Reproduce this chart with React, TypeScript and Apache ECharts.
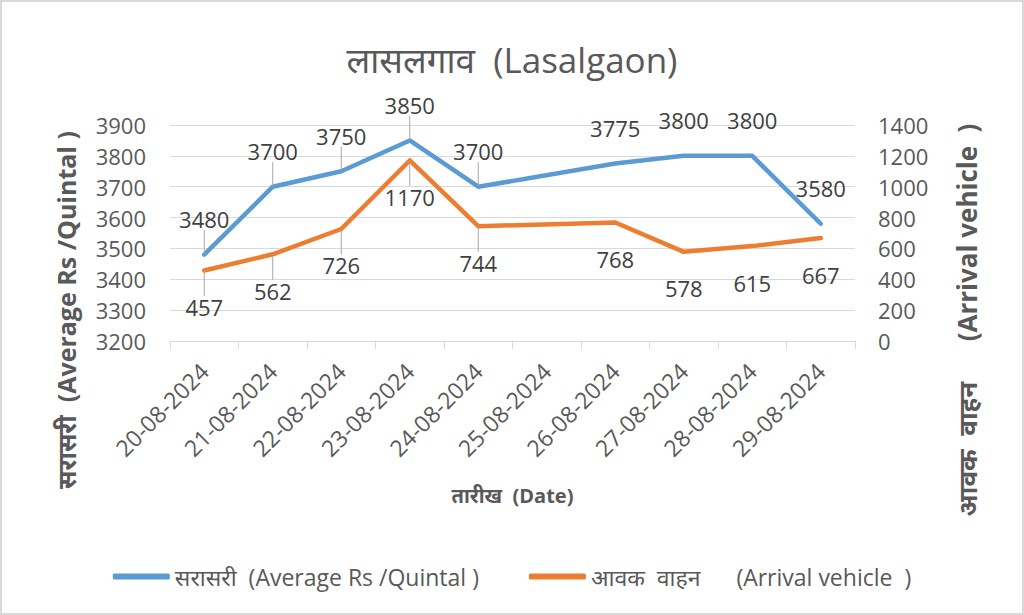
import React, { useEffect, useRef } from "react";
import * as echarts from "echarts";

const categories = [
  "20-08-2024", "21-08-2024", "22-08-2024", "23-08-2024", "24-08-2024",
  "25-08-2024", "26-08-2024", "27-08-2024", "28-08-2024", "29-08-2024",
];
const averagePrice: (number | null)[] = [3480, 3700, 3750, 3850, 3700, null, 3775, 3800, 3800, 3580];
const arrivalVehicles: (number | null)[] = [457, 562, 726, 1170, 744, null, 768, 578, 615, 667];
const leftTicks = { min: 3200, max: 3900, interval: 100 };
const rightTicks = { min: 0, max: 1400, interval: 200 };

const nameAvg = "सरासरी  (Average Rs /Quintal )";
const nameArr = "आवक  वाहन      (Arrival vehicle  )";

const FONT = "'Open Sans', 'Noto Sans Devanagari', 'Noto Sans', sans-serif";
const TXT = "#595959";

export default function App() {
  const ref = useRef<HTMLDivElement>(null);
  useEffect(() => {
    if (!ref.current) return;
    const chart = echarts.init(ref.current, undefined, { renderer: "svg" });
    const guided = [0, 1, 2, 3, 4];
    const mk = (vals: (number | null)[]) =>
      vals.map((v, i) => ({
        value: v,
        labelLine: { show: guided.includes(i) },
      }));
    chart.setOption({
      animation: false,
      backgroundColor: "#ffffff",
      textStyle: { fontFamily: FONT },
      title: {
        text: "लासलगाव  (Lasalgaon)",
        left: "center",
        top: 35,
        textStyle: { fontFamily: FONT, fontSize: 35, fontWeight: "normal", color: TXT },
      },
      grid: { left: 168, right: 167, top: 123, bottom: 272 },
      legend: {
        bottom: 20,
        left: "center",
        itemGap: 50,
        itemWidth: 57,
        itemHeight: 6,
        textStyle: { fontFamily: FONT, fontSize: 23, color: TXT },
        data: [
          { name: nameAvg, icon: "roundRect" },
          { name: nameArr, icon: "roundRect" },
        ],
      },
      graphic: [
        {
          type: "text",
          x: 64,
          y: 308,
          rotation: Math.PI / 2,
          style: {
            text: nameAvg,
            fontFamily: FONT,
            fontSize: 25,
            fontWeight: "bold",
            fill: TXT,
            align: "center",
            verticalAlign: "middle",
          },
        },
        {
          type: "text",
          x: 965,
          y: 318,
          rotation: Math.PI / 2,
          style: {
            text: nameArr,
            fontFamily: FONT,
            fontSize: 26,
            fontWeight: "bold",
            fill: TXT,
            align: "center",
            verticalAlign: "middle",
          },
        },
      ],
      xAxis: {
        type: "category",
        data: categories,
        boundaryGap: true,
        name: "तारीख  (Date)",
        nameLocation: "middle",
        nameGap: 144,
        nameTextStyle: { fontFamily: FONT, fontSize: 20, fontWeight: "bold", color: TXT },
        axisLine: { lineStyle: { color: "#d9d9d9", width: 1 } },
        axisTick: { show: true, length: 8, lineStyle: { color: "#d9d9d9" } },
        axisLabel: { rotate: 45, fontSize: 23, color: TXT, fontFamily: FONT, margin: 26, interval: 0 },
      },
      yAxis: [
        {
          type: "value",
          ...leftTicks,
          axisLine: { show: false },
          axisTick: { show: false },
          axisLabel: { fontSize: 22, color: TXT, fontFamily: FONT, margin: 24, formatter: (v: number) => String(v) },
          splitLine: { lineStyle: { color: "#d9d9d9", width: 1 } },
        },
        {
          type: "value",
          ...rightTicks,
          position: "right",
          axisLine: { show: false },
          axisTick: { show: false },
          axisLabel: { fontSize: 22, color: TXT, fontFamily: FONT, margin: 23, formatter: (v: number) => String(v) },
          splitLine: { show: false },
        },
      ],
      series: [
        {
          name: nameAvg,
          type: "line",
          yAxisIndex: 0,
          data: mk(averagePrice),
          connectNulls: true,
          symbol: "circle",
          symbolSize: 1,
          showSymbol: true,
          color: "#5B9BD5",
          itemStyle: { color: "#5B9BD5" },
          lineStyle: { width: 4.5, color: "#5B9BD5", cap: "round", join: "round" },
          label: { show: true, position: "top", distance: 6, fontSize: 22, color: "#404040", fontFamily: FONT },
          labelLayout: { dy: -18 },
          labelLine: { show: false, lineStyle: { color: "#a6a6a6", width: 1 } },
          z: 3,
        },
        {
          name: nameArr,
          type: "line",
          yAxisIndex: 1,
          data: mk(arrivalVehicles),
          connectNulls: true,
          symbol: "circle",
          symbolSize: 1,
          showSymbol: true,
          color: "#ED7D31",
          itemStyle: { color: "#ED7D31" },
          lineStyle: { width: 4.5, color: "#ED7D31", cap: "round", join: "round" },
          label: { show: true, position: "bottom", distance: 6, fontSize: 22, color: "#404040", fontFamily: FONT },
          labelLayout: { dy: 19 },
          labelLine: { show: false, lineStyle: { color: "#a6a6a6", width: 1 } },
          z: 2,
        },
      ],
    });
    return () => chart.dispose();
  }, []);
  return (
    <div
      ref={ref}
      style={{
        position: "absolute",
        left: 0,
        top: 0,
        width: 1024,
        height: 615,
        boxSizing: "border-box",
        border: "2px solid #d9d9d9",
        background: "#fff",
      }}
    />
  );
}
